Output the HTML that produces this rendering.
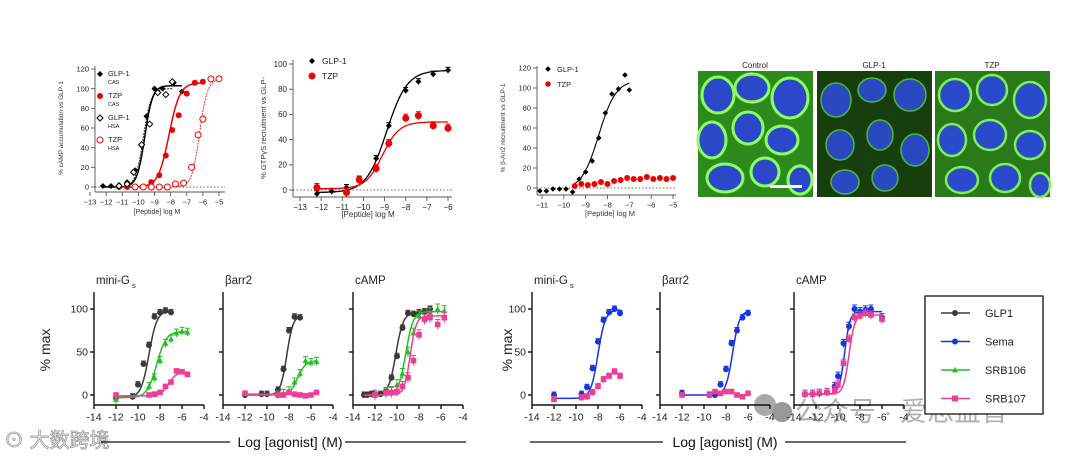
<!DOCTYPE html>
<html><head><meta charset="utf-8"><style>
body{margin:0;background:#fff;}
svg{display:block;font-family:"Liberation Sans",Arial,sans-serif;}
</style></head><body>
<svg id="fig" width="1080" height="458" viewBox="0 0 1080 458">
<g>
<text x="755" y="68" font-size="8" text-anchor="middle" fill="#222">Control</text>
<text x="874" y="68" font-size="8" text-anchor="middle" fill="#222">GLP-1</text>
<text x="992" y="68" font-size="8" text-anchor="middle" fill="#222">TZP</text>
<g>
<rect x="698" y="71" width="115" height="126" fill="#2f8a1e"/>
<g stroke="#8cff60" stroke-width="3" fill="#2a48c8">
<ellipse cx="718" cy="95" rx="16" ry="18"/><ellipse cx="752" cy="88" rx="17" ry="14"/><ellipse cx="790" cy="98" rx="18" ry="20"/>
<ellipse cx="712" cy="140" rx="14" ry="18"/><ellipse cx="748" cy="128" rx="15" ry="16"/><ellipse cx="782" cy="140" rx="16" ry="14"/>
<ellipse cx="725" cy="178" rx="18" ry="14"/><ellipse cx="765" cy="172" rx="14" ry="14"/><ellipse cx="800" cy="180" rx="12" ry="14"/>
</g><rect x="770" y="185" width="32" height="3" fill="#fff"/></g>
<g>
<rect x="817" y="71" width="115" height="126" fill="#173f0e"/>
<g stroke="#4fb83a" stroke-width="1.5" fill="#2a48c0">
<ellipse cx="836" cy="100" rx="15" ry="17"/><ellipse cx="872" cy="90" rx="14" ry="12"/><ellipse cx="910" cy="95" rx="16" ry="16"/>
<ellipse cx="840" cy="145" rx="14" ry="15"/><ellipse cx="880" cy="135" rx="13" ry="15"/><ellipse cx="915" cy="150" rx="14" ry="16"/>
<ellipse cx="845" cy="182" rx="14" ry="12"/><ellipse cx="885" cy="178" rx="13" ry="13"/>
</g></g>
<g>
<rect x="935" y="71" width="115" height="126" fill="#2a7a1a"/>
<g stroke="#80f055" stroke-width="2.5" fill="#2a4acc">
<ellipse cx="955" cy="95" rx="16" ry="16"/><ellipse cx="992" cy="90" rx="15" ry="15"/><ellipse cx="1030" cy="100" rx="16" ry="18"/>
<ellipse cx="952" cy="140" rx="14" ry="16"/><ellipse cx="990" cy="135" rx="16" ry="15"/><ellipse cx="1030" cy="145" rx="15" ry="14"/>
<ellipse cx="962" cy="180" rx="16" ry="13"/><ellipse cx="1005" cy="178" rx="15" ry="14"/><ellipse cx="1040" cy="185" rx="10" ry="12"/>
</g></g>
</g>
<g>
<circle cx="765" cy="405" r="11" fill="#aaa"/><circle cx="782" cy="412" r="10" fill="#999"/>
<text x="795" y="421" font-size="27" fill="#b0b0b0" font-family="'Liberation Sans','Noto Sans CJK SC',sans-serif">公众号 · 爱思益普</text>
<text x="4" y="447" font-size="20" fill="#fff" stroke="#999" stroke-width="0.8" font-family="'Liberation Sans','Noto Sans CJK SC',sans-serif">⊙ 大数跨境</text>
</g>
</svg>
<script>
const aGlpCasX=[-12.2,-11.7,-11.2,-10.7,-10.2,-9.8,-9.5,-9.0,-8.5,-7.8,-7.3];
const aGlpCasY=[1,1,2,5,17,42,72,100,100,106,97];
const aTzpCasX=[-11.2,-10.7,-10.2,-9.7,-9.2,-8.7,-8.3,-7.9,-7.5,-7.0,-6.5,-6.0];
const aTzpCasY=[0,0,0,0,5,12,32,58,73,95,106,107];
const aGlpHsaX=[-11.2,-10.7,-10.3,-9.8,-9.3,-8.8,-8.3,-7.9];
const aGlpHsaY=[1,3,15,43,64,96,94,107];
const aTzpHsaX=[-10.2,-9.7,-9.2,-8.7,-8.2,-7.7,-7.2,-6.7,-6.3,-6.0,-5.5,-5.0];
const aTzpHsaY=[0,0,0,0,0,3,4,20,53,69,110,110];
const aFits=[[0,103,-9.6,1.8],[0,106,-8.1,1.3],[0,100,-9.7,1.8],[0,110,-6.2,1.8]];
const aYTicks=[0,20,40,60,80,100,120];
const aXTicks=[-13,-12,-11,-10,-9,-8,-7,-6,-5];
const bGlpX=[-12.2,-11.5,-10.8,-10.2,-9.4,-8.8,-8.0,-7.4,-6.7,-6.0];
const bGlpY=[-3,-1,2,8,25,51,79,86,92,95];
const bTzpX=[-12.2,-10.8,-10.2,-9.4,-8.8,-8.0,-7.4,-6.7,-6.0];
const bTzpY=[2,-2,8,17,37,57,59,51,49];
const bFits=[[-2,95,-8.9,0.9],[1,54,-9.1,1.1]];
const bYTicks=[0,20,40,60,80,100];
const bXTicks=[-13,-12,-11,-10,-9,-8,-7,-6];
const cGlpX=[-11.1,-10.8,-10.5,-10.2,-9.9,-9.6,-9.3,-9.0,-8.7,-8.4,-8.1,-7.8,-7.5,-7.2,-7.0];
const cGlpY=[-3,-3,-1,-1,-1,-4,9,16,27,50,75,94,99,113,98];
const cTzpX=[-9.5,-9.2,-8.9,-8.6,-8.3,-8.0,-7.7,-7.4,-7.1,-6.8,-6.5,-6.2,-5.9,-5.6,-5.3,-5.0];
const cTzpY=[2,4,3,4,6,4,7,8,10,9,9,11,9,10,9,10];
const cFits=[[-2,108,-8.4,1.1]];
const cYTicks=[0,20,40,60,80,100,120];
const cXTicks=[-11,-10,-9,-8,-7,-6,-5];
const bottomXTicks=[-14,-12,-10,-8,-6,-4];
const bottomYTicks=[0,50,100];
const mgGlpX=[-12,-10.5,-10,-9.5,-9,-8.5,-8,-7.5,-7];
const mgGlpY=[-3,-2,12,36,58,91,96,98,96];
const mg106X=[-12,-9,-8.5,-8,-7.5,-7,-6.5,-6,-5.5];
const mg106Y=[-5,10,20,40,60,65,72,74,73];
const mg107X=[-12,-9,-8.5,-8,-7.5,-7,-6.5,-6,-5.5];
const mg107Y=[0,0,1,3,10,15,28,27,24];
const arGlpX=[-12,-10.5,-10,-9,-8.5,-8,-7.5,-7];
const arGlpY=[0,1,1,6,30,75,91,90];
const ar106X=[-9,-8.5,-8,-7.5,-7,-6.5,-6,-5.5];
const ar106Y=[0,2,5,15,25,40,38,39];
const ar107X=[-12,-9,-8.5,-8,-7.5,-7,-6.5,-6,-5.5];
const ar107Y=[2,0,0,3,1,0,-1,0,3];
const caGlpX=[-13,-12.7,-12.3,-12,-11.5,-11,-10.5,-10,-9.5,-9,-8.5,-8,-7.5,-7];
const caGlpY=[0,0,1,0,1,3,20,45,78,95,94,96,97,100];
const ca106X=[-11,-10.5,-10,-9.5,-9,-8.5,-8,-7,-6.3,-5.7];
const ca106Y=[2,4,12,25,50,72,92,96,100,98];
const ca107X=[-12,-11,-10.5,-10,-9.5,-9,-8.5,-8,-7.5,-7,-6.3,-5.7];
const ca107Y=[0,3,3,4,10,20,40,70,88,90,82,90];
const smSemaX=[-12,-9.5,-9,-8.5,-8,-7.5,-7,-6.5,-6];
const smSemaY=[0,1,9,31,62,87,96,100,95];
const sm107X=[-12,-9.5,-9,-8.5,-8,-7.5,-7,-6.5,-6];
const sm107Y=[-5,-3,-2,3,10,18,22,27,22];
const saSemaX=[-12,-9.5,-9,-8.5,-8,-7.5,-7,-6.5,-6];
const saSemaY=[2,0,0,12,30,60,75,90,95];
const sa107X=[-12,-9.5,-9,-8.5,-8,-7.5,-7,-6.5,-6];
const sa107Y=[0,0,4,2,4,4,0,-2,2];
const scSemaX=[-13,-12.3,-11.7,-11,-10.3,-10,-9.5,-9,-8.5,-8,-7.5,-7,-6];
const scSemaY=[1,1,2,3,10,22,60,80,100,97,99,100,90];
const sc107X=[-13,-12.3,-11.7,-11,-10.3,-10,-9.5,-9,-8.5,-8,-7.5,-7,-6];
const sc107Y=[1,1,2,3,5,12,37,65,90,92,95,93,88];

const NS='http://www.w3.org/2000/svg';
const svg=document.getElementById('fig');
function el(tag,attrs,parent){const e=document.createElementNS(NS,tag);for(const k in attrs)e.setAttribute(k,attrs[k]);(parent||svg).appendChild(e);return e;}
function txt(s,attrs,parent){const e=el('text',attrs,parent);e.textContent=s;return e;}
function sig(p,x){return p[0]+(p[1]-p[0])/(1+Math.pow(10,(p[2]-x)*p[3]));}
function makeScale(d0,d1,r0,r1){return v=>r0+(v-d0)*(r1-r0)/(d1-d0);}

function drawAxes(g,c){
  const sx=makeScale(c.x0,c.x1,c.px0,c.px1), sy=makeScale(c.y0,c.y1,c.py0,c.py1);
  const col=c.axisColor, w=c.axisW;
  el('line',{x1:c.axX,y1:c.axTop,x2:c.axX,y2:c.axBot,stroke:col,'stroke-width':w},g);
  el('line',{x1:c.axX,y1:c.axBot,x2:c.axRight,y2:c.axBot,stroke:col,'stroke-width':w},g);
  c.yt.forEach(v=>{const y=sy(v);
    const t=el('line',{x1:c.axX-4,y1:y,x2:c.axX,y2:y,stroke:col,'stroke-width':w},g);
    
    const l=txt(String(v),{x:c.axX-6,y:y+c.fs*0.35,'font-size':c.fs,'text-anchor':'end',fill:'#222'},g);
    });
  c.xt.forEach(v=>{const x=sx(v);
    const t=el('line',{x1:x,y1:c.axBot,x2:x,y2:c.axBot+4,stroke:col,'stroke-width':w},g);
    
    const s=v<0?(c.minus?'\u2212'+(-v):String(v)):String(v);
    const l=txt(s,{x:x,y:c.axBot+5+c.fs,'font-size':c.fs,'text-anchor':'middle',fill:'#222'},g);
    });
  if(c.zeroLine){el('line',{x1:c.axX,y1:sy(0),x2:c.axRight,y2:sy(0),stroke:'#333','stroke-width':0.8,'stroke-dasharray':'1.5,2'},g);}
  return {sx,sy};
}
function marker(g,type,x,y,color,r){
  let m;
  if(type==='circle')m=el('circle',{cx:x,cy:y,r:r,fill:color},g);
  else if(type==='ocircle')m=el('circle',{cx:x,cy:y,r:r,fill:'#fff',stroke:color,'stroke-width':1},g);
  else if(type==='diamond')m=el('polygon',{points:`${x},${y-r} ${x+r},${y} ${x},${y+r} ${x-r},${y}`,fill:color},g);
  else if(type==='odiamond')m=el('polygon',{points:`${x},${y-r} ${x+r},${y} ${x},${y+r} ${x-r},${y}`,fill:'#fff',stroke:color,'stroke-width':1},g);
  else if(type==='triangle')m=el('polygon',{points:`${x},${y-r} ${x+r},${y+r*0.8} ${x-r},${y+r*0.8}`,fill:color},g);
  else m=el('rect',{x:x-r,y:y-r,width:2*r,height:2*r,fill:color},g);
  return m;
}
function series(g,s,xs,ys,name,opt){
  const sg=el('g',{},g);
  
  
  if(opt.fit){let d='';const a=opt.fx0!==undefined?opt.fx0:Math.min(...xs),b=opt.fx1!==undefined?opt.fx1:Math.max(...xs);
    for(let i=0;i<=80;i++){const x=a+(b-a)*i/80;d+=(i?'L':'M')+s.sx(x).toFixed(1)+','+s.sy(sig(opt.fit,x)).toFixed(1);}
    const p=el('path',{d:d,fill:'none',stroke:opt.color,'stroke-width':opt.lw||1.5,'stroke-dasharray':opt.dash||'none'},sg);
    }
  xs.forEach((xv,i)=>{const x=s.sx(xv),y=s.sy(ys[i]);
    if(opt.err){el('line',{x1:x,y1:y-opt.err,x2:x,y2:y+opt.err,stroke:opt.color,'stroke-width':1},sg);
      el('line',{x1:x-2.5,y1:y-opt.err,x2:x+2.5,y2:y-opt.err,stroke:opt.color,'stroke-width':1},sg);}
    const m=marker(sg,opt.marker,x,y,opt.color,opt.r||3);
    });
}
function group(name){const g=el('g',{});return g;}

let g=group('camp-accumulation-chart');
let s=drawAxes(g,{x0:-13,x1:-5,px0:90,px1:219,y0:0,y1:120,py0:187,py1:69,axX:95,axTop:66,axBot:192,axRight:225,yt:aYTicks,xt:aXTicks,fs:7.5,axisColor:'#555',axisW:0.9,minus:true,zeroLine:true});
series(g,s,aGlpCasX,aGlpCasY,'glp1-cas',{color:'#000',marker:'diamond',r:3,fit:aFits[0],fx0:-12.2,fx1:-7.3});
series(g,s,aTzpCasX,aTzpCasY,'tzp-cas',{color:'#e00',marker:'circle',r:3,fit:aFits[1],fx0:-11.2,fx1:-6.0});
series(g,s,aGlpHsaX,aGlpHsaY,'glp1-hsa',{color:'#000',marker:'odiamond',r:3,fit:aFits[2],lw:0.8,dash:'2,1'});
series(g,s,aTzpHsaX,aTzpHsaY,'tzp-hsa',{color:'#e00',marker:'ocircle',r:3,fit:aFits[3],lw:0.8,dash:'2,1'});
txt('[Peptide] log M',{x:157,y:214,'font-size':7,'text-anchor':'middle',fill:'#333'},g);
txt('% cAMP accumulation vs GLP-1',{x:0,y:0,'font-size':6.5,'text-anchor':'middle',fill:'#333',transform:'translate(63,128) rotate(-90)'},g);
[['GLP-1','CAS','diamond','#000',76],['TZP','CAS','circle','#e00',98],['GLP-1','HSA','odiamond','#000',120],['TZP','HSA','ocircle','#e00',142]].forEach(L=>{
  const lg=el('g',{},g);
  marker(lg,L[2],100,L[4]-2,L[3],3);
  txt(L[0],{x:108,y:L[4],'font-size':7.5,fill:'#222'},lg);txt(L[1],{x:108,y:L[4]+8,'font-size':5.5,fill:'#222'},lg);});

g=group('gtp-gamma-s-chart');
s=drawAxes(g,{x0:-13,x1:-6,px0:300,px1:448,y0:0,y1:100,py0:190,py1:64,axX:293,axTop:60,axBot:197,axRight:452,yt:bYTicks,xt:bXTicks,fs:8,axisColor:'#555',axisW:0.9,minus:true,zeroLine:true});
series(g,s,bGlpX,bGlpY,'glp1',{color:'#000',marker:'diamond',r:3,fit:bFits[0],err:3,lw:1.3});
series(g,s,bTzpX,bTzpY,'tzp',{color:'#e00',marker:'circle',r:3.5,fit:bFits[1],err:4,lw:1.3});
txt('[Peptide] log M',{x:368,y:217,'font-size':8,'text-anchor':'middle',fill:'#333'},g);
txt('% GTPγS recruitment vs GLP-',{x:0,y:0,'font-size':7.5,'text-anchor':'middle',fill:'#333',transform:'translate(266,128) rotate(-90)'},g);
let lg=el('g',{},g);
marker(lg,'diamond',312,61,'#000',3);txt('GLP-1',{x:322,y:64,'font-size':8.5,fill:'#222'},lg);
lg=el('g',{},g);
marker(lg,'circle',312,76,'#e00',3.5);txt('TZP',{x:322,y:79,'font-size':8.5,fill:'#222'},lg);

g=group('beta-arr2-recruitment-chart');
s=drawAxes(g,{x0:-11,x1:-5,px0:542,px1:673,y0:0,y1:120,py0:188,py1:68,axX:537,axTop:66,axBot:195,axRight:676,yt:cYTicks,xt:cXTicks,fs:7.5,axisColor:'#555',axisW:0.9,minus:true,zeroLine:true});
series(g,s,cGlpX,cGlpY,'glp1',{color:'#000',marker:'diamond',r:2.8,fit:cFits[0],fx0:-9.5,fx1:-7.0,lw:1.1});
series(g,s,cTzpX,cTzpY,'tzp',{color:'#e00',marker:'circle',r:3});
txt('[Peptide] log M',{x:610,y:216,'font-size':7.5,'text-anchor':'middle',fill:'#333'},g);
txt('% β-Arr2 recruitment vs GLP-1',{x:0,y:0,'font-size':6.5,'text-anchor':'middle',fill:'#333',transform:'translate(505,128) rotate(-90)'},g);
lg=el('g',{},g);
marker(lg,'diamond',548,69,'#000',2.8);txt('GLP-1',{x:557,y:72,'font-size':7.5,fill:'#222'},lg);
lg=el('g',{},g);
marker(lg,'circle',548,84,'#e00',2.8);txt('TZP',{x:557,y:87,'font-size':7.5,fill:'#222'},lg);

const GREY='#3a3a3a',GREEN='#22c022',PINK='#ee3d96',BLUE='#1536e0';
function bottomPanel(name,title,axX,sub){
  const gg=group(name);
  const ss=drawAxes(gg,{x0:-14,x1:-4,px0:axX,px1:axX+110,y0:0,y1:100,py0:395,py1:309,axX:axX,axTop:292,axBot:405,axRight:axX+110,yt:sub?bottomYTicks:[],xt:bottomXTicks,fs:10.5,axisColor:'#111',axisW:1.4,minus:false});
  if(!sub){bottomYTicks.forEach(v=>{el('line',{x1:axX-4,y1:ss.sy(v),x2:axX,y2:ss.sy(v),stroke:'#111','stroke-width':1.4},gg);});}
  const t=txt(title,{x:axX+2,y:284,'font-size':11.5,fill:'#222'},gg);
  
  return [gg,ss];
}
let r;
r=bottomPanel('left-mini-gs-chart','mini-G',94,true);
txt('s',{x:132,y:288,'font-size':7.5,fill:'#222'},r[0]);
series(r[0],r[1],mgGlpX,mgGlpY,'glp1',{color:GREY,marker:'circle',r:3,fit:[-3,98,-9.0,1.2],err:3});
series(r[0],r[1],mg106X,mg106Y,'srb106',{color:GREEN,marker:'triangle',r:3,fit:[-3,74,-8.3,1.0],err:4});
series(r[0],r[1],mg107X,mg107Y,'srb107',{color:PINK,marker:'square',r:2.8,fit:[-1,27,-7.2,1.2]});
r=bottomPanel('left-barr2-chart','βarr2',223,false);
series(r[0],r[1],arGlpX,arGlpY,'glp1',{color:GREY,marker:'circle',r:3,fit:[0,93,-8.2,1.5],err:3});
series(r[0],r[1],ar106X,ar106Y,'srb106',{color:GREEN,marker:'triangle',r:3,fit:[0,40,-7.2,1.2],err:4,fx0:-12});
series(r[0],r[1],ar107X,ar107Y,'srb107',{color:PINK,marker:'square',r:2.8,fit:[1,1,-8,1]});
r=bottomPanel('left-camp-chart','cAMP',353,false);
series(r[0],r[1],caGlpX,caGlpY,'glp1',{color:GREY,marker:'circle',r:3,fit:[0,96,-10.1,1.3],err:3});
series(r[0],r[1],ca106X,ca106Y,'srb106',{color:GREEN,marker:'triangle',r:3,fit:[0,97,-9.2,1.3],err:5,fx0:-13});
series(r[0],r[1],ca107X,ca107Y,'srb107',{color:PINK,marker:'square',r:2.8,fit:[0,92,-8.8,1.6],err:5,fx0:-13});
r=bottomPanel('right-mini-gs-chart','mini-G',532,true);
txt('s',{x:570,y:288,'font-size':7.5,fill:'#222'},r[0]);
series(r[0],r[1],smSemaX,smSemaY,'sema',{color:BLUE,marker:'circle',r:3,fit:[-4,99,-8.0,1.3],err:3});
series(r[0],r[1],sm107X,sm107Y,'srb107',{color:PINK,marker:'square',r:2.8,err:3});
r=bottomPanel('right-barr2-chart','βarr2',660,false);
series(r[0],r[1],saSemaX,saSemaY,'sema',{color:BLUE,marker:'circle',r:3,fit:[0,98,-7.4,1.4],err:3});
series(r[0],r[1],sa107X,sa107Y,'srb107',{color:PINK,marker:'square',r:2.8,err:2});
r=bottomPanel('right-camp-chart','cAMP',794,false);
series(r[0],r[1],scSemaX,scSemaY,'sema',{color:BLUE,marker:'circle',r:3,fit:[1,97,-9.4,1.8],err:4});
series(r[0],r[1],sc107X,sc107Y,'srb107',{color:PINK,marker:'square',r:2.8,fit:[1,93,-9.0,1.7],err:4});

[[50,'left'],[512,'right']].forEach(p=>{const t=txt('% max',{x:0,y:0,'font-size':14,'text-anchor':'middle',fill:'#222',transform:`translate(${p[0]},350) rotate(-90)`});
  });
[[101,230,345,466,290],[530,663,785,906,725]].forEach((p,i)=>{
  const gg=group(i?'right-x-axis-title':'left-x-axis-title');
  el('line',{x1:p[0],y1:442,x2:p[1],y2:442,stroke:'#111','stroke-width':1.3},gg);
  el('line',{x1:p[2],y1:442,x2:p[3],y2:442,stroke:'#111','stroke-width':1.3},gg);
  txt('Log [agonist] (M)',{x:p[4],y:447,'font-size':14,'text-anchor':'middle',fill:'#111'},gg);});

const lgNames=['GLP1','Sema','SRB106','SRB107'];
const lgColors=[GREY,BLUE,GREEN,PINK];
const lgMarkers=['circle','circle','triangle','square'];
const lgBox=group('legend');
el('rect',{x:925,y:296,width:118,height:118,fill:'#fff',stroke:'#111','stroke-width':1.3},lgBox);
lgNames.forEach((n,i)=>{const y=313+i*28.5;
  const e=el('g',{},lgBox);
  
  
  el('line',{x1:941,y1:y,x2:970,y2:y,stroke:lgColors[i],'stroke-width':1.5},e);
  marker(e,lgMarkers[i],955,y,lgColors[i],3);
  txt(n,{x:985,y:y+4,'font-size':11,fill:'#222'},e);});
</script>
</body></html>
